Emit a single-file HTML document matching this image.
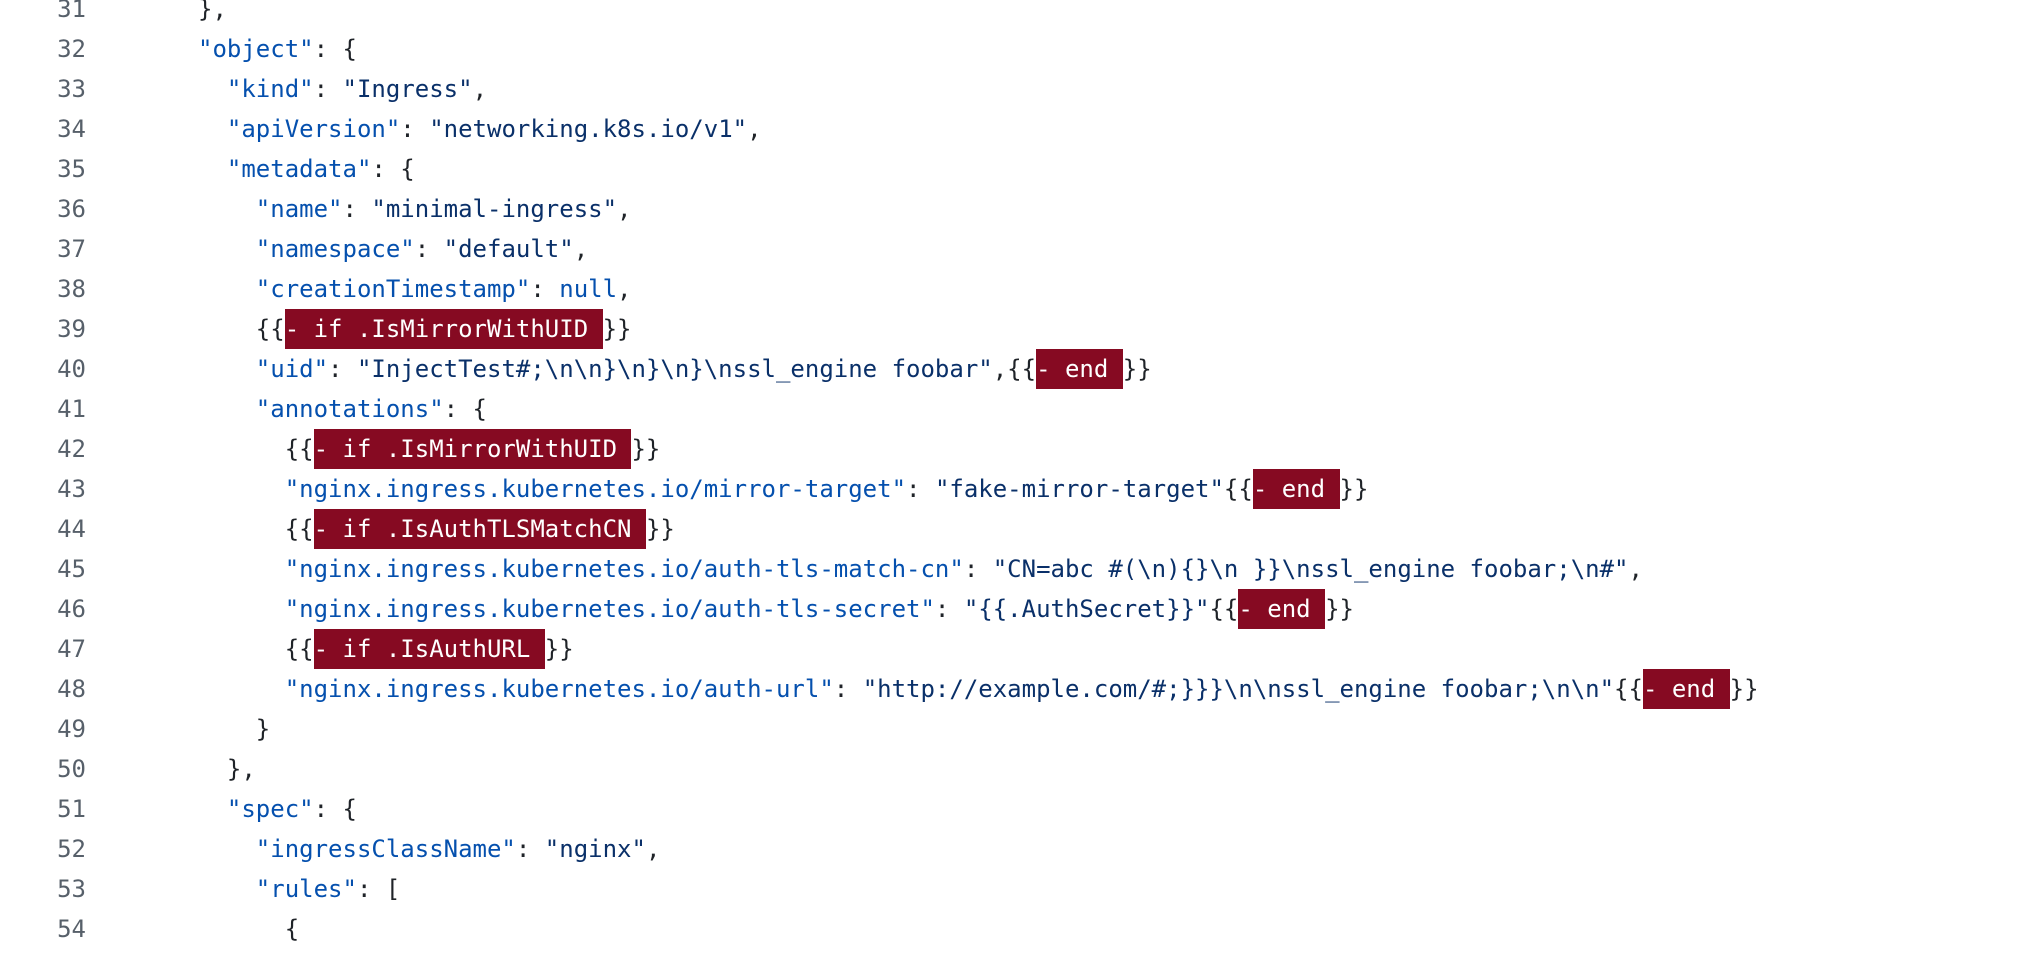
<!DOCTYPE html>
<html><head><meta charset="utf-8"><style>
html,body{margin:0;padding:0;background:#fff;}
body{width:2038px;height:956px;overflow:hidden;position:relative;font-family:"DejaVu Sans Mono","Liberation Mono",monospace;font-size:24px;}
.l{position:absolute;left:0;height:40px;line-height:40px;white-space:pre;width:2038px;}
.n{position:absolute;right:calc(2038px - 86px);color:#57606a;text-align:right;}
.c{position:absolute;left:198px;color:#1f2328;}
.k{color:#0550ae;}
.s{color:#0a3069;}
.h{background:#860a22;color:#fff;display:inline-block;height:40px;}
</style></head><body>
<div class="l" style="top:-11px"><span class="n">31</span><span class="c">},</span></div>
<div class="l" style="top:29px"><span class="n">32</span><span class="c"><span class="k">"object"</span>: {</span></div>
<div class="l" style="top:69px"><span class="n">33</span><span class="c">  <span class="k">"kind"</span>: <span class="s">"Ingress"</span>,</span></div>
<div class="l" style="top:109px"><span class="n">34</span><span class="c">  <span class="k">"apiVersion"</span>: <span class="s">"networking.k8s.io/v1"</span>,</span></div>
<div class="l" style="top:149px"><span class="n">35</span><span class="c">  <span class="k">"metadata"</span>: {</span></div>
<div class="l" style="top:189px"><span class="n">36</span><span class="c">    <span class="k">"name"</span>: <span class="s">"minimal-ingress"</span>,</span></div>
<div class="l" style="top:229px"><span class="n">37</span><span class="c">    <span class="k">"namespace"</span>: <span class="s">"default"</span>,</span></div>
<div class="l" style="top:269px"><span class="n">38</span><span class="c">    <span class="k">"creationTimestamp"</span>: <span class="k">null</span>,</span></div>
<div class="l" style="top:309px"><span class="n">39</span><span class="c">    {{<span class="h">- if .IsMirrorWithUID </span>}}</span></div>
<div class="l" style="top:349px"><span class="n">40</span><span class="c">    <span class="k">"uid"</span>: <span class="s">"InjectTest#;\n\n}\n}\n}\nssl_engine foobar"</span>,{{<span class="h">- end </span>}}</span></div>
<div class="l" style="top:389px"><span class="n">41</span><span class="c">    <span class="k">"annotations"</span>: {</span></div>
<div class="l" style="top:429px"><span class="n">42</span><span class="c">      {{<span class="h">- if .IsMirrorWithUID </span>}}</span></div>
<div class="l" style="top:469px"><span class="n">43</span><span class="c">      <span class="k">"nginx.ingress.kubernetes.io/mirror-target"</span>: <span class="s">"fake-mirror-target"</span>{{<span class="h">- end </span>}}</span></div>
<div class="l" style="top:509px"><span class="n">44</span><span class="c">      {{<span class="h">- if .IsAuthTLSMatchCN </span>}}</span></div>
<div class="l" style="top:549px"><span class="n">45</span><span class="c">      <span class="k">"nginx.ingress.kubernetes.io/auth-tls-match-cn"</span>: <span class="s">"CN=abc #(\n){}\n }}\nssl_engine foobar;\n#"</span>,</span></div>
<div class="l" style="top:589px"><span class="n">46</span><span class="c">      <span class="k">"nginx.ingress.kubernetes.io/auth-tls-secret"</span>: <span class="s">"{{.AuthSecret}}"</span>{{<span class="h">- end </span>}}</span></div>
<div class="l" style="top:629px"><span class="n">47</span><span class="c">      {{<span class="h">- if .IsAuthURL </span>}}</span></div>
<div class="l" style="top:669px"><span class="n">48</span><span class="c">      <span class="k">"nginx.ingress.kubernetes.io/auth-url"</span>: <span class="s">"http://example.com/#;}}}\n\nssl_engine foobar;\n\n"</span>{{<span class="h">- end </span>}}</span></div>
<div class="l" style="top:709px"><span class="n">49</span><span class="c">    }</span></div>
<div class="l" style="top:749px"><span class="n">50</span><span class="c">  },</span></div>
<div class="l" style="top:789px"><span class="n">51</span><span class="c">  <span class="k">"spec"</span>: {</span></div>
<div class="l" style="top:829px"><span class="n">52</span><span class="c">    <span class="k">"ingressClassName"</span>: <span class="s">"nginx"</span>,</span></div>
<div class="l" style="top:869px"><span class="n">53</span><span class="c">    <span class="k">"rules"</span>: [</span></div>
<div class="l" style="top:909px"><span class="n">54</span><span class="c">      {</span></div>
</body></html>
